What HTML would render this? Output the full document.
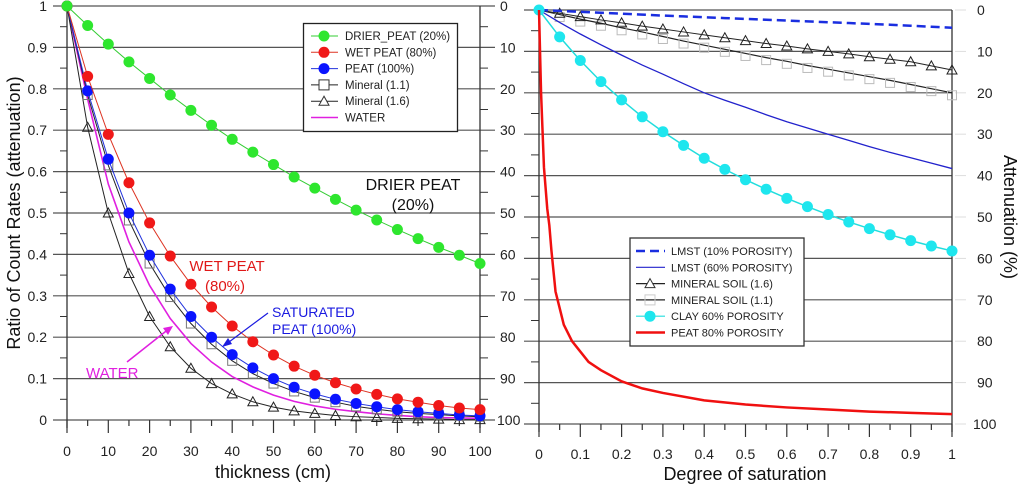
<!DOCTYPE html>
<html><head><meta charset="utf-8"><style>
body{margin:0;background:#fff;}
svg{display:block;font-family:"Liberation Sans",Arial,sans-serif;}
</style></head><body>
<svg id="c" width="1024" height="484" viewBox="0 0 1024 484" xmlns="http://www.w3.org/2000/svg"></svg>
<script>
// ---- Left chart data ----
const thick = [0,5,10,15,20,25,30,35,40,45,50,55,60,65,70,75,80,85,90,95,100];
const drierPeat = [1,0.953,0.908,0.865,0.825,0.785,0.748,0.712,0.678,0.647,0.617,0.587,0.56,0.533,0.507,0.483,0.46,0.438,0.417,0.398,0.378];
const wetPeat = [1,0.83,0.69,0.573,0.476,0.396,0.328,0.273,0.227,0.189,0.157,0.13,0.108,0.09,0.075,0.062,0.051,0.043,0.035,0.029,0.025];
const peat100 = [1,0.795,0.63,0.5,0.398,0.316,0.25,0.2,0.158,0.126,0.1,0.079,0.063,0.05,0.04,0.032,0.025,0.02,0.016,0.012,0.01];
const mineral11 = [1,0.785,0.615,0.482,0.378,0.297,0.233,0.183,0.143,0.112,0.088,0.069,0.054,0.043,0.033,0.026,0.02,0.016,0.013,0.01,0.008];
const mineral16 = [1,0.707,0.5,0.354,0.25,0.177,0.125,0.088,0.063,0.044,0.031,0.022,0.016,0.011,0.008,0.006,0.004,0.003,0.002,0.001,0.001];
const water = [1,0.775,0.57,0.43,0.325,0.245,0.185,0.14,0.105,0.08,0.06,0.045,0.034,0.026,0.02,0.015,0.011,0.008,0.006,0.005,0.004];
const leftYTicks = ["0","0.1","0.2","0.3","0.4","0.5","0.6","0.7","0.8","0.9","1"];
const leftXTicks = ["0","10","20","30","40","50","60","70","80","90","100"];
const midTicks = ["0","10","20","30","40","50","60","70","80","90","100"];
// ---- Right chart data ----
const sat = [0,0.05,0.1,0.15,0.2,0.25,0.3,0.35,0.4,0.45,0.5,0.55,0.6,0.65,0.7,0.75,0.8,0.85,0.9,0.95,1];
const lmst10 = [0,0.22,0.45,0.67,0.9,1.12,1.35,1.55,1.75,1.95,2.15,2.35,2.55,2.75,2.95,3.15,3.35,3.55,3.8,4.05,4.3];
const lmst60 = [0,3,5.8,8.4,10.9,13.3,15.5,17.8,20,21.8,23.5,25.3,27,28.5,30,31.5,33,34.4,35.7,37,38.3];
const minSoil16 = [0,0.8,1.6,2.4,3.1,3.9,4.6,5.3,6,6.7,7.4,8.1,8.7,9.4,10,10.6,11.3,11.9,12.5,13.5,14.5];
const minSoil11 = [0,1.1,2.2,3.2,4.3,5.3,6.4,7.5,8.5,9.5,10.5,11.5,12.4,13.4,14.3,15.2,16.1,17,18,19,20];
const clay60 = [0,6.5,12.2,17.3,21.7,25.8,29.4,32.7,35.8,38.5,41,43.3,45.5,47.5,49.4,51.2,52.8,54.3,55.7,57,58.2];
const peatSatX = [0,0.005,0.012,0.02,0.025,0.03,0.04,0.05,0.06,0.08,0.1,0.12,0.15,0.2,0.25,0.3,0.4,0.5,0.6,0.7,0.8,0.9,1];
const peatSatY = [0,20,38,48,52,58,68,72,76,80,82.5,85,87,89.7,91.4,92.5,94.3,95.3,96,96.5,97,97.3,97.6];
const rightYTicks = ["0","10","20","30","40","50","60","70","80","90","100"];
const rightXTicks = ["0","0.1","0.2","0.3","0.4","0.5","0.6","0.7","0.8","0.9","1"];

const svg = document.getElementById('c');
const NS = 'http://www.w3.org/2000/svg';
function el(tag, attrs, parent){const e=document.createElementNS(NS,tag);for(const k in attrs)e.setAttribute(k,attrs[k]);(parent||svg).appendChild(e);return e;}
function txt(s, attrs, parent){const e=el('text',attrs,parent);e.textContent=s;return e;}

const lx = v => 67 + v/100*413;
const ly = v => 420 - v*414;
const rx = v => 539 + v*413;
const ry = v => 10 + v/100*414;

// ---- Left chart frame ----
const lg = el('g',{});


for(let i=0;i<=10;i++){
  const y=ly(i/10);
  const g=el('line',{x1:53,x2:495,y1:y,y2:y,stroke:'#555','stroke-width':1.2},lg);
  
  
  const t=txt(leftYTicks[i],{x:47,y:y+5,'text-anchor':'end','font-size':14,fill:'#222'},lg);
  
  
  const m=txt(midTicks[10-i],{x:i==0?497:500,y:y+5,'font-size':14,fill:'#222'},lg);
  
  
  if(i<10){const ym=ly(i/10+0.05);
    el('line',{x1:60,x2:67,y1:ym,y2:ym,stroke:'#333'},lg);
    el('line',{x1:480,x2:488,y1:ym,y2:ym,stroke:'#333'},lg);}
}
el('line',{x1:67,x2:67,y1:ly(1),y2:428,stroke:'#333','stroke-width':1.3},lg);
el('line',{x1:480,x2:480,y1:ly(1),y2:428,stroke:'#333','stroke-width':1.3},lg);
for(let i=0;i<=20;i++){const x=lx(i*5);
  el('line',{x1:x,x2:x,y1:420,y2:i%2?426:433,stroke:'#333','stroke-width':1.2},lg);
  if(i%2==0){const t=txt(leftXTicks[i/2],{x:x,y:456,'text-anchor':'middle','font-size':14,fill:'#222'},lg);
    
    }
}
let t=txt('thickness (cm)',{x:273,y:478,'text-anchor':'middle','font-size':18,fill:'#111'},lg);


t=txt('Ratio of Count Rates (attenuation)',{x:0,y:0,'text-anchor':'middle','font-size':18,fill:'#111',transform:'translate(20,213) rotate(-90)'},lg);



function series(xs, ys, fx, fy, color, width, name, dash){
  const p=el('polyline',{points:xs.map((x,i)=>fx(x)+','+fy(ys[i])).join(' '),fill:'none',stroke:color,'stroke-width':width});
  if(dash)p.setAttribute('stroke-dasharray',dash);
  
  
}
function markers(xs, ys, fx, fy, type, fill, stroke, name){
  xs.forEach((x,i)=>{const cx=fx(x),cy=fy(ys[i]);let m;
    if(type=='c')m=el('circle',{cx:cx,cy:cy,r:5.5,fill:fill});
    else if(type=='s')m=el('rect',{x:cx-4.5,y:cy-4.5,width:9,height:9,fill:'none',stroke:stroke,'stroke-width':1});
    else m=el('polygon',{points:`${cx},${cy-5} ${cx-5},${cy+4} ${cx+5},${cy+4}`,fill:'none',stroke:stroke,'stroke-width':1});
    
    
  });
}
series(thick,water,lx,ly,'#e020e0',1.6,'water-line');
series(thick,mineral16,lx,ly,'#222',1,'mineral-1-6-line');
markers(thick.slice(1),mineral16.slice(1),lx,ly,'t',null,'#222','mineral-1-6-point');
series(thick,mineral11,lx,ly,'#222',1,'mineral-1-1-line');
markers(thick.slice(1),mineral11.slice(1),lx,ly,'s',null,'#777','mineral-1-1-point');
series(thick,peat100,lx,ly,'#2233dd',1,'peat-100-line');
markers(thick,peat100,lx,ly,'c','#0a14ff',null,'peat-100-point');
series(thick,wetPeat,lx,ly,'#dd3322',1,'wet-peat-line');
markers(thick,wetPeat,lx,ly,'c','#f01818',null,'wet-peat-point');
series(thick,drierPeat,lx,ly,'#33cc33',1,'drier-peat-line');
markers(thick,drierPeat,lx,ly,'c','#2ee62e',null,'drier-peat-point');

t=txt('DRIER PEAT',{x:413,y:190,'text-anchor':'middle','font-size':16,fill:'#111'});

t=txt('(20%)',{x:413,y:210,'text-anchor':'middle','font-size':16,fill:'#111'});

t=txt('WET PEAT',{x:227,y:271,'text-anchor':'middle','font-size':15,fill:'#e01818'});

t=txt('(80%)',{x:225,y:291,'text-anchor':'middle','font-size':15,fill:'#e01818'});

t=txt('SATURATED',{x:272,y:317,'font-size':14,fill:'#1a1ae0'});

t=txt('PEAT (100%)',{x:272,y:334,'font-size':14,fill:'#1a1ae0'});

t=txt('WATER',{x:86,y:378,'font-size':15,fill:'#e020e0'});

el('line',{x1:268,y1:313,x2:225,y2:345,stroke:'#1a1ae0','stroke-width':1.2});
el('polygon',{points:'222,347 228,338 232,344',fill:'#1a1ae0'});
el('line',{x1:127,y1:362,x2:170,y2:328,stroke:'#e020e0','stroke-width':1.5});
el('polygon',{points:'173,326 163,328 168,335',fill:'#e020e0'});

const lL=el('g',{});


el('rect',{x:303.5,y:23.5,width:154,height:108,fill:'#fff',stroke:'#222','stroke-width':1.3},lL);
const leftLeg=[['DRIER_PEAT (20%)','c','#2ee62e','#33cc33'],['WET PEAT (80%)','c','#f01818','#dd3322'],['PEAT (100%)','c','#0a14ff','#2233dd'],['Mineral (1.1)','s',null,'#222'],['Mineral (1.6)','t',null,'#222'],['WATER','n',null,'#e020e0']];
leftLeg.forEach((e,i)=>{const y=36+i*16.3;
  el('line',{x1:311,x2:338,y1:y,y2:y,stroke:e[3],'stroke-width':e[1]=='n'?1.6:1},lL);
  if(e[1]=='c')el('circle',{cx:324,cy:y,r:5.5,fill:e[2]},lL);
  if(e[1]=='s')el('rect',{x:319,y:y-5,width:10,height:10,fill:'#fff',stroke:'#333'},lL);
  if(e[1]=='t')el('polygon',{points:`324,${y-5} 319,${y+4} 329,${y+4}`,fill:'#fff',stroke:'#333'},lL);
  const tt=txt(e[0],{x:345,y:y+4,'font-size':11.5,fill:'#222'},lL);
  
  
});

// ---- Right chart ----
const rg=el('g',{});


for(let i=0;i<=10;i++){const y=ry(i*10);
  el('line',{x1:524,x2:952,y1:y,y2:y,stroke:'#555','stroke-width':1.2},rg);
  el('line',{x1:955,x2:966,y1:y,y2:y,stroke:'#ddd','stroke-width':1},rg);
  const tt=txt(rightYTicks[i],{x:i==10?973:977,y:y+5,'font-size':14,fill:'#222'},rg);
  
  
  if(i<10){const ym=ry(i*10+5);el('line',{x1:531,x2:539,y1:ym,y2:ym,stroke:'#333'},rg);}
}
el('line',{x1:539,x2:539,y1:ry(0),y2:432,stroke:'#333','stroke-width':1.3},rg);
el('line',{x1:952,x2:952,y1:ry(0),y2:432,stroke:'#333','stroke-width':1.3},rg);
for(let i=0;i<=20;i++){const x=rx(i*0.05);
  el('line',{x1:x,x2:x,y1:424,y2:i%2?430:437,stroke:'#333','stroke-width':1.2},rg);
  if(i%2==0){const tt=txt(rightXTicks[i/2],{x:x,y:459,'text-anchor':'middle','font-size':14,fill:'#222'},rg);
    
    }
}
t=txt('Degree of saturation',{x:745,y:480,'text-anchor':'middle','font-size':18,fill:'#111'},rg);

t=txt('Attenuation (%)',{x:0,y:0,'text-anchor':'middle','font-size':18,fill:'#111',transform:'translate(1004,217) rotate(90)'},rg);


series(sat,minSoil11,rx,ry,'#222',1.2,'mineral-soil-1-1-line');
markers(sat.slice(1),minSoil11.slice(1).map(v=>v+0.6),rx,ry,'s',null,'#bbb','mineral-soil-1-1-point');
series(sat,minSoil16,rx,ry,'#222',1,'mineral-soil-1-6-line');
markers(sat.slice(1),minSoil16.slice(1),rx,ry,'t',null,'#222','mineral-soil-1-6-point');
series(sat,lmst60,rx,ry,'#2222cc',1.3,'lmst-60-line');
series(sat,lmst10,rx,ry,'#1a2ee0',2.5,'lmst-10-line','9,5');
series(sat,clay60,rx,ry,'#22dddd',1.5,'clay-60-line');
markers(sat,clay60,rx,ry,'c','#1ee6ee',null,'clay-60-point');
series(peatSatX,peatSatY,rx,ry,'#f01010',2.5,'peat-80-line');

const rL=el('g',{});


el('rect',{x:630,y:238,width:174,height:108,fill:'#fff',stroke:'#333','stroke-width':1.3},rL);
const rightLeg=[['LMST (10% POROSITY)','d','#1a2ee0'],['LMST (60% POROSITY)','l','#2222cc'],['MINERAL SOIL (1.6)','t','#222'],['MINERAL SOIL (1.1)','s','#222'],['CLAY 60% POROSITY','c','#22dddd'],['PEAT 80% POROSITY','r','#f01010']];
rightLeg.forEach((e,i)=>{const y=251+i*16.3;
  const ln=el('line',{x1:636,x2:665,y1:y,y2:y,stroke:e[2],'stroke-width':(e[1]=='d'||e[1]=='r')?2.5:1.2},rL);
  if(e[1]=='d')ln.setAttribute('stroke-dasharray','9,5');
  if(e[1]=='t')el('polygon',{points:`650,${y-5} 645,${y+4} 655,${y+4}`,fill:'#fff',stroke:'#333'},rL);
  if(e[1]=='s')el('rect',{x:645,y:y-5,width:10,height:10,fill:'none',stroke:'#ccc'},rL);
  if(e[1]=='c')el('circle',{cx:650,cy:y,r:5.5,fill:'#1ee6ee'},rL);
  const tt=txt(e[0],{x:671,y:y+4,'font-size':11,fill:'#222'},rL);
  
  
});
</script>
</body></html>
